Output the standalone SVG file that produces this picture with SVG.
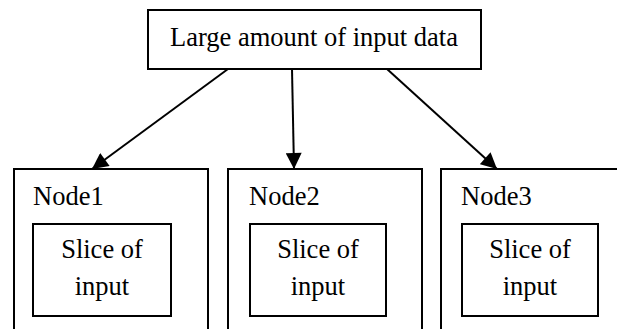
<svg xmlns="http://www.w3.org/2000/svg" width="617" height="329" viewBox="0 0 617 329">
  <style>
    .box { fill: #fff; stroke: #000; stroke-width: 2; }
    .open { fill: none; stroke: #000; stroke-width: 2; }
    .t { font-family: "Liberation Serif", "Times New Roman", serif; font-size: 26.5px; fill: #000; }
    .c { text-anchor: middle; }
    .edge { stroke: #000; stroke-width: 2; fill: none; marker-end: url(#arrow); }
  </style>
  <defs>
    <marker id="arrow" viewBox="0 0 10 10" refX="10" refY="5" markerUnits="userSpaceOnUse" markerWidth="17" markerHeight="16" orient="auto">
      <path d="M0,0 L10,5 L0,10 z" fill="#000"/>
    </marker>
  </defs>

  <rect width="617" height="329" fill="#fff"/>

  <g id="source">
    <rect class="box" x="148" y="10" width="333" height="59"/>
    <text class="t" x="170" y="46">Large amount of input data</text>
  </g>

  <g id="node1">
    <path class="open" d="M14,330 V169 H208 V330"/>
    <text class="t" x="33" y="205">Node1</text>
    <rect class="box" x="33" y="224" width="138" height="92"/>
    <text class="t c" x="102" y="258">Slice of</text>
    <text class="t c" x="102" y="295">input</text>
  </g>

  <g id="node2">
    <path class="open" d="M228,330 V169 H422 V330"/>
    <text class="t" x="249" y="205">Node2</text>
    <rect class="box" x="250" y="224" width="136" height="92"/>
    <text class="t c" x="318" y="258">Slice of</text>
    <text class="t c" x="318" y="295">input</text>
  </g>

  <g id="node3">
    <path class="open" d="M441,330 V169 H620"/>
    <text class="t" x="461" y="205">Node3</text>
    <rect class="box" x="462" y="224" width="136" height="92"/>
    <text class="t c" x="530" y="258">Slice of</text>
    <text class="t c" x="530" y="295">input</text>
  </g>

  <g id="connectors">
    <line class="edge" x1="228" y1="69" x2="92" y2="169"/>
    <line class="edge" x1="292" y1="69" x2="294" y2="169"/>
    <line class="edge" x1="387" y1="69" x2="497" y2="169"/>
  </g>
</svg>
